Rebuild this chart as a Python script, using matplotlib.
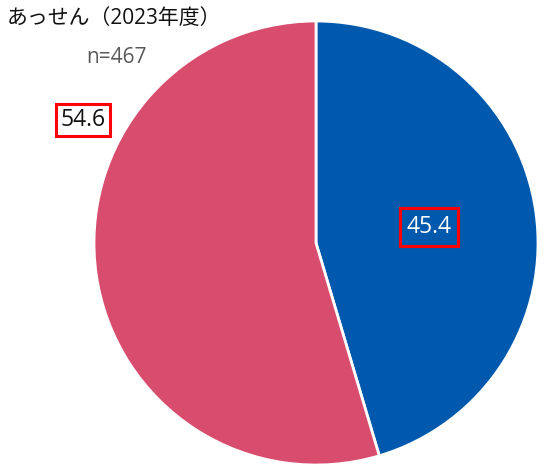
import matplotlib.pyplot as plt

plt.rcParams['font.family'] = ['Open Sans', 'Noto Sans CJK JP', 'DejaVu Sans']

# Datos
etiquetas = ['はい', 'いいえ']
valores = [45.4, 54.6]
colores = ['#0059AD', '#D84C6D']
titulo = 'あっせん（2023年度）'
n_texto = 'n=467'

W, H = 547, 473
fig = plt.figure(figsize=(W / 100, H / 100), dpi=100)
ax = fig.add_axes([0, 0, 1, 1])

cx, cy, r = 316, H - 243, 222
ax.pie(valores, colors=colores, startangle=90, counterclock=False,
       center=(cx, cy), radius=r, frame=True,
       wedgeprops=dict(edgecolor='white', linewidth=2))
ax.set_xlim(0, W)
ax.set_ylim(0, H)
ax.set_aspect('equal')
ax.axis('off')

ax.text(7, H - 19, titulo, fontsize=15, ha='left', va='center', color='#111111')
ax.text(117, H - 58, n_texto, fontsize=15, ha='center', va='center', color='#595959')

# Etiquetas con recuadro rojo
caja = dict(boxstyle='square,pad=0.3', facecolor='none', edgecolor='#FF0000', linewidth=2.2)
ax.text(429, H - 227, f'{valores[0]:.1f}', fontsize=16.5, ha='center', va='center',
        color='white', bbox=caja)
caja2 = dict(boxstyle='square,pad=0.18', facecolor='white', edgecolor='#FF0000', linewidth=2.2)
ax.text(83, H - 120, f'{valores[1]:.1f}', fontsize=16.5, ha='center', va='center',
        color='#111111', bbox=caja2)

plt.savefig('out.png', dpi=100)
